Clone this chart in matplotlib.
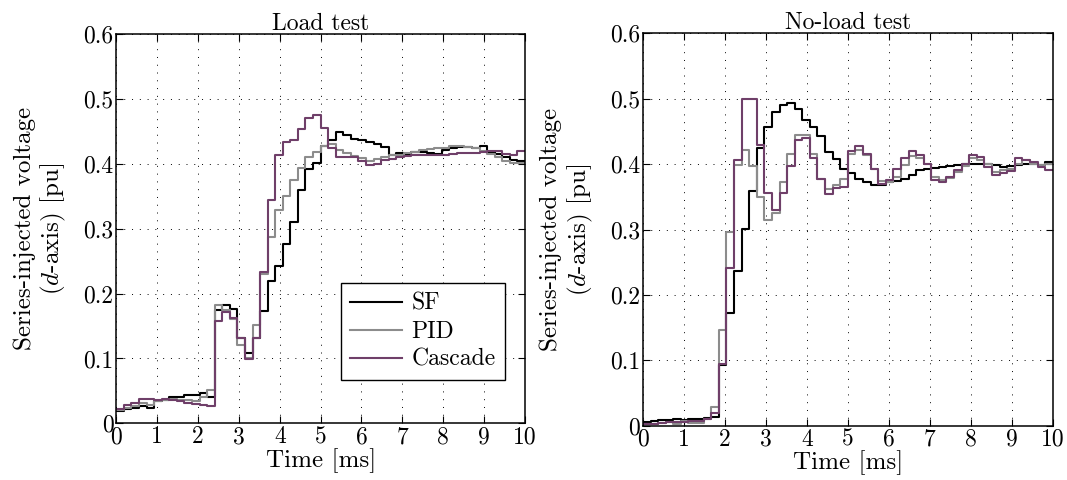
import numpy as np
import matplotlib
matplotlib.use('Agg')
import matplotlib.pyplot as plt

plt.rcParams['font.family'] = 'serif'
plt.rcParams['font.serif'] = ['cmr10']
plt.rcParams['mathtext.fontset'] = 'cm'
plt.rcParams['axes.formatter.use_mathtext'] = True

# sample period of the step signals (ms)
n_steps = 54
t = np.arange(n_steps + 1) * 10.0 / n_steps

# Load test
load_sf = [0.019, 0.022, 0.023, 0.027, 0.024, 0.034, 0.036, 0.040, 0.041, 0.043,
           0.044, 0.047, 0.041, 0.175, 0.183, 0.176, 0.131, 0.109, 0.131, 0.173,
           0.220, 0.242, 0.276, 0.310, 0.359, 0.392, 0.402, 0.428, 0.437, 0.449,
           0.445, 0.438, 0.436, 0.434, 0.430, 0.426, 0.414, 0.416, 0.415, 0.418,
           0.419, 0.417, 0.415, 0.422, 0.424, 0.426, 0.426, 0.425, 0.428, 0.419,
           0.415, 0.410, 0.406, 0.404]
load_pid = [0.021, 0.024, 0.027, 0.031, 0.029, 0.034, 0.036, 0.038, 0.036, 0.036,
            0.034, 0.040, 0.051, 0.183, 0.175, 0.161, 0.121, 0.100, 0.152, 0.230,
            0.288, 0.329, 0.351, 0.375, 0.394, 0.411, 0.418, 0.427, 0.430, 0.422,
            0.416, 0.412, 0.409, 0.405, 0.407, 0.411, 0.413, 0.414, 0.416, 0.419,
            0.422, 0.423, 0.424, 0.425, 0.428, 0.428, 0.426, 0.424, 0.420, 0.415,
            0.410, 0.404, 0.401, 0.402]
load_cascade = [0.022, 0.028, 0.032, 0.038, 0.037, 0.036, 0.038, 0.036, 0.034, 0.031,
                0.030, 0.029, 0.026, 0.157, 0.171, 0.162, 0.131, 0.099, 0.131, 0.233,
                0.345, 0.414, 0.434, 0.437, 0.454, 0.471, 0.475, 0.456, 0.424, 0.410,
                0.411, 0.410, 0.404, 0.398, 0.399, 0.406, 0.408, 0.410, 0.412, 0.414,
                0.414, 0.413, 0.413, 0.413, 0.415, 0.416, 0.416, 0.416, 0.418, 0.420,
                0.420, 0.415, 0.414, 0.420]

# No-load test
noload_sf = [0.005, 0.007, 0.009, 0.009, 0.011, 0.009, 0.011, 0.011, 0.012, 0.013,
             0.093, 0.172, 0.236, 0.301, 0.359, 0.424, 0.457, 0.479, 0.491, 0.493,
             0.485, 0.467, 0.457, 0.443, 0.419, 0.408, 0.393, 0.386, 0.377, 0.372,
             0.368, 0.368, 0.372, 0.374, 0.377, 0.383, 0.391, 0.392, 0.394, 0.396,
             0.397, 0.399, 0.400, 0.401, 0.401, 0.400, 0.398, 0.396, 0.397, 0.399,
             0.400, 0.400, 0.398, 0.404]
noload_pid = [0.002, 0.003, 0.004, 0.005, 0.003, 0.007, 0.004, 0.004, 0.010, 0.028,
              0.146, 0.297, 0.398, 0.422, 0.397, 0.350, 0.315, 0.325, 0.372, 0.416,
              0.444, 0.444, 0.415, 0.378, 0.362, 0.368, 0.378, 0.415, 0.422, 0.414,
              0.393, 0.375, 0.372, 0.380, 0.398, 0.413, 0.409, 0.401, 0.381, 0.376,
              0.379, 0.388, 0.397, 0.409, 0.406, 0.401, 0.388, 0.391, 0.393, 0.401,
              0.406, 0.401, 0.399, 0.401]
noload_cascade = [0.002, 0.003, 0.004, 0.005, 0.006, 0.006, 0.007, 0.008, 0.010, 0.020,
                  0.095, 0.241, 0.407, 0.500, 0.499, 0.429, 0.356, 0.330, 0.356, 0.397,
                  0.437, 0.440, 0.409, 0.378, 0.355, 0.363, 0.365, 0.420, 0.428, 0.416,
                  0.393, 0.370, 0.376, 0.392, 0.409, 0.420, 0.414, 0.401, 0.376, 0.373,
                  0.381, 0.391, 0.401, 0.414, 0.411, 0.396, 0.383, 0.386, 0.390, 0.409,
                  0.407, 0.404, 0.396, 0.391]

labels = ['SF', 'PID', 'Cascade']
colors = ['black', '#8c8c8c', '#6f3f69']
yticks = [0, 0.1, 0.2, 0.3, 0.4, 0.5, 0.6]
ytick_labels = ['0', '0.1', '0.2', '0.3', '0.4', '0.5', '0.6']
xticks = list(range(11))

fs = 17
fs_lab = 18
fig = plt.figure(figsize=(10.67, 4.8), dpi=100)
ax1 = fig.add_axes([0.109, 0.118, 0.383, 0.811])
ax2 = fig.add_axes([0.6026, 0.113, 0.384, 0.8175])


def draw(ax, series, title):
    for y, lab, c in zip(series, labels, colors):
        ax.step(t, list(y) + [y[-1]], where='post', color=c, lw=1.5, label=lab)
    ax.set_xlim(0, 10)
    ax.set_ylim(0, 0.6)
    ax.set_xticks(xticks)
    ax.set_xticklabels([str(x) for x in xticks], fontsize=fs)
    ax.set_yticks(yticks)
    ax.set_yticklabels(ytick_labels, fontsize=fs)
    ax.tick_params(direction='in', top=True, right=True, length=5, width=0.8, pad=2)
    ax.grid(True, color='black', linestyle=(0, (1, 7)), linewidth=0.7)
    for s in ax.spines.values():
        s.set_linewidth(1.1)
    ax.set_title(title, fontsize=fs, pad=3)
    ax.set_xlabel('Time [ms]', fontsize=fs_lab, labelpad=0)
    ax.set_ylabel('Series-injected voltage\n($d$-axis) [pu]', fontsize=fs_lab,
                  linespacing=1.15, labelpad=11)


draw(ax1, [load_sf, load_pid, load_cascade], 'Load test')
draw(ax2, [noload_sf, noload_pid, noload_cascade], 'No-load test')

leg = ax1.legend(loc='lower right', bbox_to_anchor=(0.98, 0.08), fontsize=fs,
                 fancybox=False, edgecolor='black', framealpha=1,
                 handlelength=2.2, borderpad=0.4, labelspacing=0.25, handletextpad=0.4)
leg.get_frame().set_linewidth(1.0)

fig.savefig('out.png', dpi=100)
